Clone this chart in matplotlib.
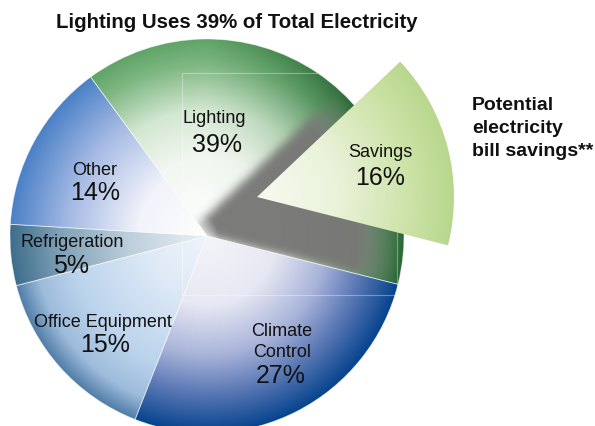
import numpy as np
import matplotlib
matplotlib.use('Agg')
import matplotlib.pyplot as plt
from matplotlib.patches import Wedge, Circle, Rectangle
from matplotlib.colors import to_rgb

plt.rcParams['font.family'] = ['Liberation Sans', 'DejaVu Sans']

# data
categories = ['Other', 'Refrigeration', 'Office Equipment', 'Climate Control', 'Lighting']
shares = [14, 5, 15, 27, 39]
savings_share = 16
start_angle = 126.2

title = 'Lighting Uses 39% of Total Electricity'
side_note = ['Potential', 'electricity', 'bill savings**']

# layout (pixel space, y up)
W, H = 595, 427
cx, cy, R = 207, 190, 197
sav_dx, sav_dy = 50, 39
shd_dx, shd_dy = -17, 4

fig = plt.figure(figsize=(W / 100, H / 100), dpi=100)
ax = fig.add_axes([0, 0, 1, 1])
ax.set_xlim(0, W)
ax.set_ylim(0, H)
ax.axis('off')

xs = np.arange(W) + 0.5
ys = np.arange(H) + 0.5
X, Y = np.meshgrid(xs, ys)
rr = np.hypot(X - cx, Y - cy)
rn = rr / R
ang = np.degrees(np.arctan2(Y - cy, X - cx))


def ramp(stops, t):
    pos = [s[0] for s in stops]
    cols = np.array([to_rgb(s[1]) for s in stops])
    return np.stack([np.interp(t, pos, cols[:, k]) for k in range(3)], -1)


def blur2d(img, sig):
    n = int(sig * 4)
    k = np.exp(-np.arange(-n, n + 1) ** 2 / (2 * sig ** 2))
    k /= k.sum()
    out = np.array([np.convolve(row, k, mode='same') for row in img])
    return np.array([np.convolve(col, k, mode='same') for col in out.T]).T


grads = {
    'Other': [(0, '#ffffff'), (0.35, '#f2f3fb'), (0.7, '#a6bbe4'), (1, '#4a80c6')],
    'Refrigeration': [(0, '#eaf0f4'), (0.4, '#bccfdb'), (0.75, '#7fa1b7'), (1, '#3e6d8b')],
    'Office Equipment': [(0, '#f0f4fb'), (0.3, '#dfeaf6'), (0.7, '#bad3ec'),
                         (0.88, '#9dbbdb'), (1, '#4f7ca6')],
    'Climate Control': [(0, '#f4f4f9'), (0.35, '#e7e8f3'), (0.6, '#aab5da'),
                        (0.8, '#5977b4'), (1, '#05438d')],
}
light_top = [(0, '#ffffff'), (0.4, '#f2f7f1'), (0.64, '#d3e7d1'), (0.87, '#7fb783'), (1, '#5fa466')]
light_dark = [(0, '#ffffff'), (0.4, '#e9f1e7'), (0.64, '#a8caa8'), (0.87, '#4b8c56'), (1, '#2a6636')]

pie_clip = Circle((cx, cy), R, facecolor='none', edgecolor='none')
ax.add_patch(pie_clip)

theta = start_angle
light_wedge = None
for name, val in zip(categories, shares):
    span = val * 3.6
    w = Wedge((cx, cy), R, theta, theta + span, facecolor='none',
              edgecolor=(1, 1, 1, 0.5), lw=0.6, zorder=3)
    ax.add_patch(w)
    if name == 'Lighting':
        k = np.clip((ang - 40) / 50, 0, 1)[..., None]
        rgb = ramp(light_dark, rn) * (1 - k) + ramp(light_top, rn) * k
        light_wedge = w
        light_start = theta
    else:
        rgb = ramp(grads[name], rn)
    im = ax.imshow(rgb, extent=(0, W, 0, H), origin='lower', zorder=1,
                   interpolation='bilinear')
    im.set_clip_path(w)
    theta += span

# shadow left where the savings slice was pulled out
sav_t1 = light_start
sav_t2 = light_start + savings_share * 3.6
scx_, scy_ = cx + shd_dx, cy + shd_dy
ang_s = np.degrees(np.arctan2(Y - scy_, X - scx_))
inside = ((ang_s - sav_t1) % 360) <= (sav_t2 - sav_t1)
mask = blur2d(inside.astype(float), 4.5)
mask *= np.clip((195 - rr) / 45, 0, 1)
glow = np.hypot(X - 193, Y - (H - 238))
mask *= np.clip((glow - 4) / 22, 0, 1)
shadow = np.zeros((H, W, 4))
shadow[..., :3] = to_rgb('#777775')
shadow[..., 3] = np.clip(mask * 0.97, 0, 1)
sh = ax.imshow(shadow, extent=(0, W, 0, H), origin='lower', zorder=2,
               interpolation='bilinear')
sh.set_clip_path(light_wedge)

# faint frame artifact
rect = Rectangle((182, H - 296), 397 - 182, 296 - 74, fill=False,
                 edgecolor=(1, 1, 1, 0.35), lw=0.8, zorder=4)
ax.add_patch(rect)
rect.set_clip_path(pie_clip)

# exploded savings slice
scx, scy = cx + sav_dx, cy + sav_dy
sav = Wedge((scx, scy), R, sav_t1, sav_t2, facecolor='none', edgecolor='none', zorder=5)
ax.add_patch(sav)
rs = np.hypot(X - scx, Y - scy) / R
sav_rgb = ramp([(0, '#f7faf0'), (0.4, '#ebf3db'), (0.75, '#cfe4ab'), (1, '#b8d78c')], rs)
si = ax.imshow(sav_rgb, extent=(0, W, 0, H), origin='lower', zorder=5,
               interpolation='bilinear')
si.set_clip_path(sav)

# labels
tc = '#111111'
lab = dict(ha='center', va='baseline', color=tc, fontsize=13, zorder=10)
pct = dict(ha='center', va='baseline', color=tc, fontsize=18, zorder=10)

label_pos = {
    'Lighting': (214, 123, 217, 152),
    'Other': (95, 175, 95, 200),
    'Refrigeration': (72, 247, 71, 273),
    'Office Equipment': (103, 327, 105, 352),
}
for name, val in zip(categories, shares):
    if name in label_pos:
        lx, ly, px, py = label_pos[name]
        ax.text(lx, H - ly, name, **lab)
        ax.text(px, H - py, f'{val}%', **pct)

ax.text(282, H - 336, 'Climate', **lab)
ax.text(282, H - 357, 'Control', **lab)
ax.text(281, H - 383, f'{shares[3]}%', **pct)

ax.text(380, H - 157, 'Savings', **lab)
ax.text(380, H - 185, f'{savings_share}%', **pct)

ax.text(237, H - 28, title, ha='center', va='baseline', fontsize=14.7,
        fontweight='bold', color=tc)
for i, line in enumerate(side_note):
    ax.text(472, H - 110 - 23 * i, line, ha='left', va='baseline', fontsize=14,
            fontweight='bold', color=tc)

fig.savefig('out.png', dpi=100)
